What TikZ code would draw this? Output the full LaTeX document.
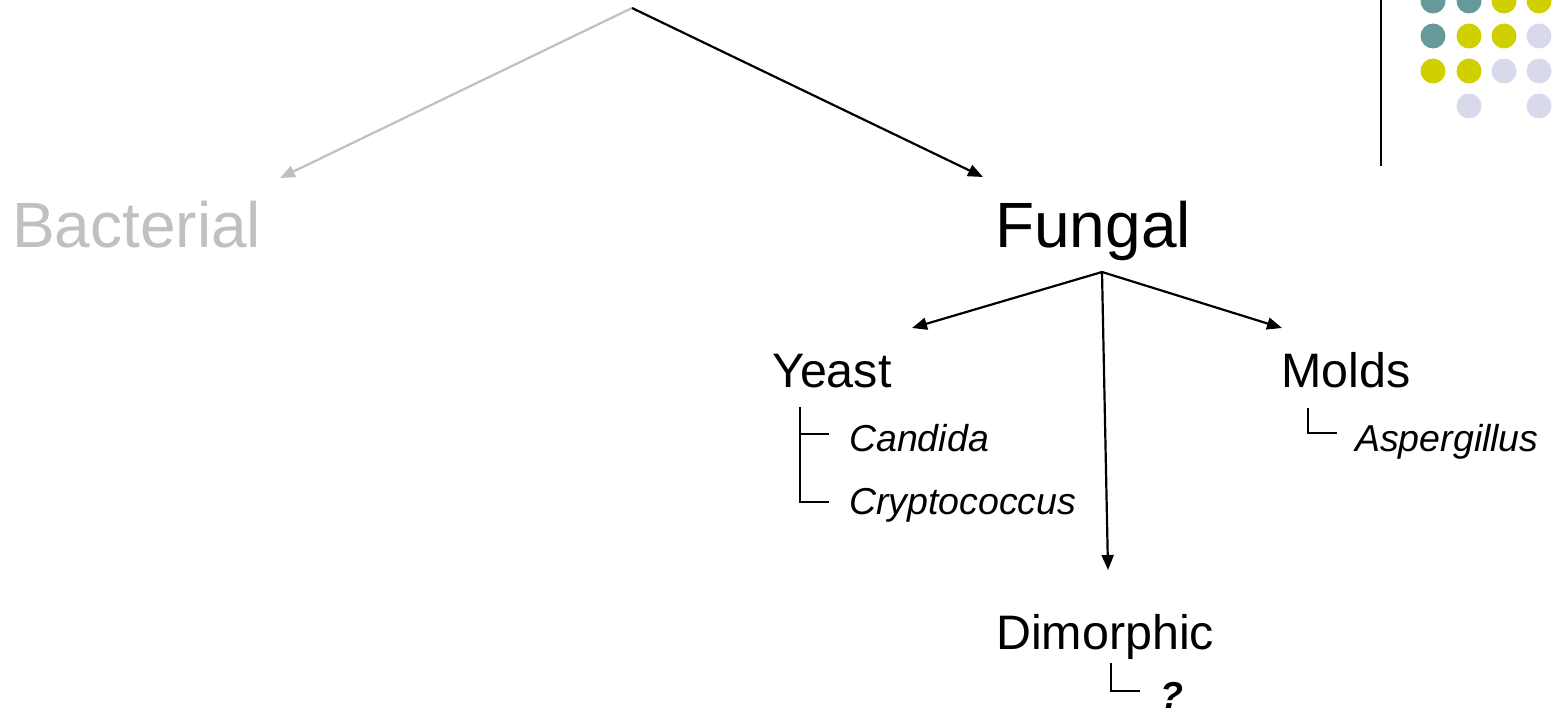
\documentclass[tikz,border=0pt]{standalone}
\usepackage{fontspec}
\setmainfont{Liberation Sans}
\usetikzlibrary{arrows.meta}
\definecolor{teal1}{HTML}{669999}
\definecolor{yel1}{HTML}{D0D000}
\definecolor{lav1}{HTML}{D9D9EC}
\definecolor{gray1}{HTML}{C0C0C0}
\begin{document}
\begin{tikzpicture}[x=1pt,y=-1pt,
  big/.style={font=\fontsize{64}{70}\selectfont, anchor=base west, inner sep=0pt},
  mid/.style={font=\fontsize{48.4}{52}\selectfont, anchor=base west, inner sep=0pt},
  small/.style={font=\fontsize{37.5}{40}\selectfont\itshape, anchor=base west, inner sep=0pt},
  arr/.style={line width=2.2pt, -{Triangle[length=15pt,width=12pt]}},
  brk/.style={line width=1.4pt},
  dot/.style={circle, minimum size=25pt, inner sep=0pt}]
\useasboundingbox (0,0) rectangle (1558,709);
% decoration
\draw[line width=1.8pt] (1381,0) -- (1381,166);
\foreach \x/\y/\c in {1433/1/teal1,1469/1/teal1,1504/1/yel1,1539/1/yel1,
  1433/36/teal1,1469/36/yel1,1504/36/yel1,1539/36/lav1,
  1433/71/yel1,1469/71/yel1,1504/71/lav1,1539/71/lav1,
  1469/106/lav1,1539/106/lav1}
  \node[dot, fill=\c] at (\x,\y) {};
% coordinates
\coordinate (apex) at (632,8);
\coordinate (bacTip) at (280,178);
\coordinate (funTip) at (983,177);
\coordinate (fb) at (1102,272);
\coordinate (yTip) at (912,328);
\coordinate (mTip) at (1282,328);
\coordinate (dTip) at (1108,570);
% texts
\node[big, text=gray1] (bac) at (12,247) {Bacterial};
\node[big] (fun) at (995,247) {Fungal};
\node[mid] (yeast) at (772,387) {Yeast};
\node[mid] (molds) at (1281,387) {Molds};
\node[mid] (dim) at (996,649) {Dimorphic};
\node[small] (cand) at (849,451) {Candida};
\node[small] (cryp) at (849,514) {Cryptococcus};
\node[small] (asp) at (1355,451) {Aspergillus};
\node[small, font=\fontsize{37.5}{40}\selectfont\bfseries\itshape] (q) at (1160,708) {?};
% connectors
\draw[arr, draw=gray1] (apex) -- (bacTip);
\draw[arr] (apex) -- (funTip);
\draw[arr] (fb) -- (yTip);
\draw[arr] (fb) -- (mTip);
\draw[arr] (fb) -- (dTip);
% brackets
\coordinate (yb0) at (800,407);
\coordinate (yb1) at (800,434);
\coordinate (yb1e) at (829,434);
\coordinate (yb2) at (800,502);
\coordinate (yb2e) at (829,502);
\draw[brk] (yb0) -- (yb2) -- (yb2e);
\draw[brk] (yb1) -- (yb1e);
\coordinate (mb0) at (1308,408);
\coordinate (mb1) at (1308,433);
\coordinate (mb1e) at (1337,433);
\draw[brk] (mb0) -- (mb1) -- (mb1e);
\coordinate (db0) at (1111,663);
\coordinate (db1) at (1111,691);
\coordinate (db1e) at (1140,691);
\draw[brk] (db0) -- (db1) -- (db1e);
\end{tikzpicture}
\end{document}
